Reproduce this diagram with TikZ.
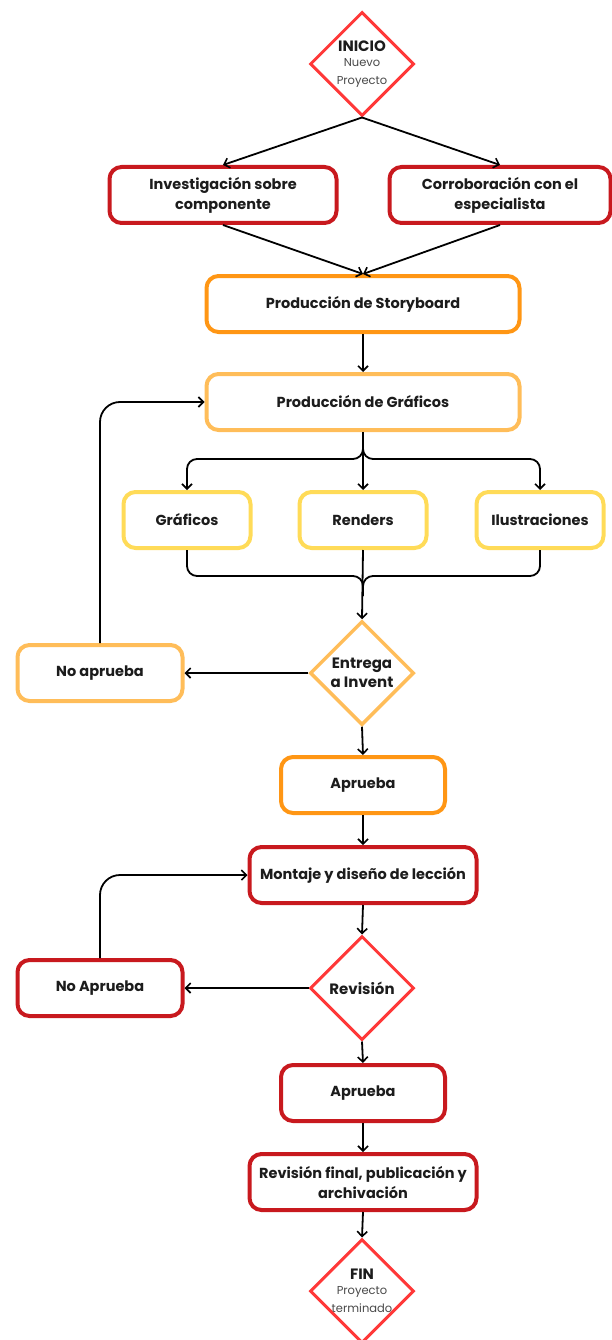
\documentclass[tikz,border=0pt]{standalone}
\usepackage{fontspec}
\setmainfont{Poppins}
\usetikzlibrary{arrows.meta,shapes.geometric}

\definecolor{darkred}{HTML}{C8191E}
\definecolor{brightred}{HTML}{FF3838}
\definecolor{orangeA}{HTML}{FF9614}
\definecolor{orangeB}{HTML}{FFBD59}
\definecolor{yellowA}{HTML}{FFDB58}
\definecolor{ink}{HTML}{1C1C1C}
\definecolor{subink}{HTML}{4A4A4A}

\newcommand\subtxt{\normalfont\fontsize{11.5}{14.5}\selectfont\color{subink}}

\tikzset{
  box/.style={rectangle, rounded corners=12pt, line width=4pt, fill=white,
    minimum height=56pt, align=center, text=ink,
    font=\bfseries\fontsize{14.5}{20}\selectfont},
  decision/.style={diamond, aspect=1, line width=3pt, fill=white, inner sep=0pt,
    minimum width=104pt, minimum height=104pt, align=center, text=ink,
    font=\bfseries\fontsize{15}{19}\selectfont},
  arr/.style={line width=1.8pt, draw=black, -{Straight Barb[length=5pt,width=10pt,line width=1.6pt]}},
  link/.style={line width=1.8pt, draw=black},
}

\begin{document}
\begin{tikzpicture}[x=1pt,y=-1pt]
\useasboundingbox (0,0) rectangle (612,1340);
\clip (0,0) rectangle (612,1340);

% start
\node[decision, draw=brightred] (start) at (362,64)
  {INICIO\\[-4pt]\subtxt Nuevo\\[-1.5pt]\subtxt Proyecto};

% research and consultation
\node[box, draw=darkred, minimum width=227pt] (inv) at (223,195) {Investigación sobre\\componente};
\node[box, draw=darkred, minimum width=221pt] (cor) at (500,195) {Corroboración con el\\especialista};

% storyboard and graphics production
\node[box, draw=orangeA, minimum width=313pt] (sb) at (363,304) {Producción de Storyboard};
\node[box, draw=orangeB, minimum width=313pt] (gp) at (363,402) {Producción de Gráficos};

% three asset types
\node[box, draw=yellowA, minimum width=127pt] (gra) at (187,520) {Gráficos};
\node[box, draw=yellowA, minimum width=127pt] (ren) at (363,520) {Renders};
\node[box, draw=yellowA, minimum width=127pt] (ilu) at (540,520) {Ilustraciones};

% delivery decision
\node[decision, draw=orangeB, line width=3.5pt] (ent) at (362,673) {Entrega\\a Invent};
\node[box, draw=orangeB, minimum width=165pt] (na1) at (100,673) {No aprueba};
\node[box, draw=orangeA, minimum width=164pt] (ap1) at (363,785) {Aprueba};

% lesson assembly and review
\node[box, draw=darkred, minimum width=227pt] (mon) at (363,875) {Montaje y diseño de lección};
\node[decision, draw=brightred] (rev) at (362,988) {Revisión};
\node[box, draw=darkred, minimum width=165pt] (na2) at (100,988) {No Aprueba};
\node[box, draw=darkred, minimum width=164pt] (ap2) at (363,1093) {Aprueba};
\node[box, draw=darkred, minimum width=227pt] (fin) at (363,1182) {Revisión final, publicación y\\archivación};

% end
\node[decision, draw=brightred] (end) at (362,1291)
  {FIN\\[-4pt]\subtxt Proyecto\\[-1.5pt]\subtxt terminado};

% connectors
\draw[arr] (start.south) -- (inv.north);
\draw[arr] (start.south) -- (cor.north);
\draw[arr] (inv.south) -- (sb.north);
\draw[arr] (cor.south) -- (sb.north);
\draw[arr] (sb.south) -- (gp.north);

\coordinate (fj) at (363,459);
\draw[arr, rounded corners=10pt] (gp.south) -- (fj) -| (gra.north);
\draw[arr, rounded corners=10pt] (gp.south) -- (fj) -| (ilu.north);
\draw[arr] (gp.south) -- (ren.north);

\coordinate (mj) at (363,576);
\draw[link, rounded corners=10pt] (gra.south) |- (mj) -- ++(0,20);
\draw[link, rounded corners=10pt] (ilu.south) |- (mj) -- ++(0,20);
\draw[arr] (ren.south) -- (ent.north);

\draw[arr] (ent.west) -- (na1.east);
\draw[arr, rounded corners=20pt] (na1.north) |- (gp.west);
\draw[arr] (ent.south) -- (ap1.north);
\draw[arr] (ap1.south) -- (mon.north);
\draw[arr] (mon.south) -- (rev.north);
\draw[arr] (rev.west) -- (na2.east);
\draw[arr, rounded corners=20pt] (na2.north) |- (mon.west);
\draw[arr] (rev.south) -- (ap2.north);
\draw[arr] (ap2.south) -- (fin.north);
\draw[arr] (fin.south) -- (end.north);
\end{tikzpicture}
\end{document}
